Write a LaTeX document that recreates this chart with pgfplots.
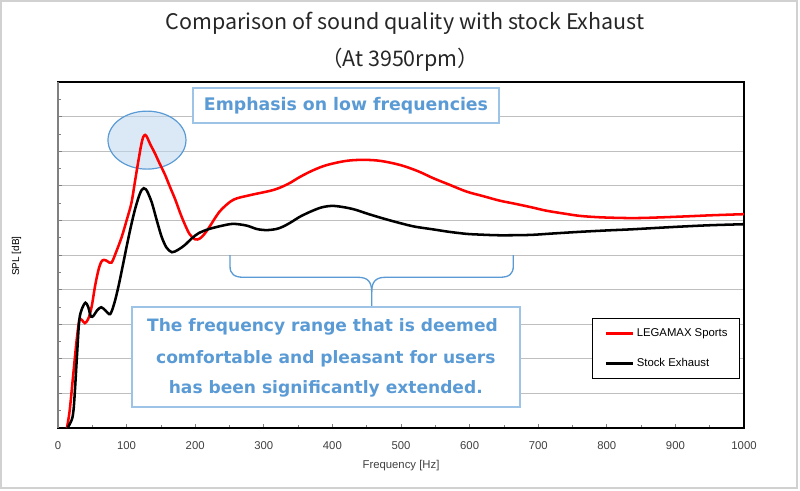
\documentclass[border=0pt]{standalone}
\usepackage{fontspec}
\setmainfont{Liberation Sans}
\newfontfamily\cjk{Noto Sans CJK JP}
\newfontfamily\ann{DejaVu Sans}
\usepackage{pgfplots}
\pgfplotsset{compat=1.18}
\definecolor{annblue}{RGB}{91,155,213}
\definecolor{boxblue}{RGB}{157,195,230}
\definecolor{ellfill}{RGB}{189,215,238}
\definecolor{tickgray}{RGB}{64,64,64}
\begin{document}
\begin{tikzpicture}
\path[use as bounding box] (0pt,0pt) rectangle (600pt,367.5pt);
\begin{axis}[
  at={(43.5pt,46.5pt)}, anchor=south west,
  width=514.5pt, height=259.5pt, scale only axis,
  xmin=0, xmax=1000, ymin=0, ymax=10,
  xtick={0,100,...,1000},
  minor xtick={50,150,...,950},
  ytick={0,1,...,10},
  minor ytick={0.5,1.5,...,9.5},
  yticklabels={},
  tick align=inside, tick pos=left,
  major tick length=3pt, minor tick length=2.5pt,
  every tick/.style={color=gray, line width=0.6pt},
  ymajorgrids,
  major grid style={color=black!25, line width=0.75pt},
  axis line style={black, line width=1.1pt},
  /pgf/number format/assume math mode=true,
  /pgf/number format/set thousands separator={},
  xticklabel style={font=\fontsize{8.5}{10}\selectfont, color=tickgray, anchor=center, yshift=-13.3pt},
  every axis x label/.style={at={(axis description cs:0.5,0)}, anchor=center, yshift=-28.5pt, font=\fontsize{8.5}{10}\selectfont, color=tickgray},
  every axis y label/.style={at={(axis description cs:-0.0603,0.497)}, rotate=90, anchor=center, font=\fontsize{7.5}{9}\selectfont, color=black},
  xlabel={Frequency [Hz]},
  ylabel={SPL [dB]},
  legend style={at={(0.994,0.1416)}, anchor=south east, draw=black, line width=0.6pt, fill=white,
    font=\fontsize{8.5}{10}\selectfont, inner xsep=9pt, inner ysep=7.5pt, row sep=15pt,
    nodes={inner sep=0pt, text height=6pt, text depth=1.5pt},
    /tikz/every odd column/.append style={column sep=2.25pt}},
  legend cell align=left,
  legend image code/.code={\draw[#1, line width=1.9pt] (0pt,0pt) -- (20pt,0pt);},
]
\draw[annblue, line width=0.9pt, fill=ellfill, fill opacity=0.55] (axis cs:129.7,8.32) ellipse [x radius=56.85, y radius=0.838];
\addplot[red, line width=1.9pt, smooth, tension=0.55] coordinates {
(13,0) (17,0.5) (22,1.5) (27,2.5) (31,3.1) (35,3.12) (39,3.03) (44,3.15) (49,3.5) (54,4.1)
(59,4.57) (63,4.8) (67,4.86) (72,4.82) (78,4.78) (85,5.1) (93,5.53) (100,6.0) (107,6.5)
(112,7.1) (117,7.7) (121,8.15) (124,8.4) (127,8.47) (130,8.4) (134,8.22) (141,7.95) (148,7.65) (156,7.32)
(163,6.98) (171,6.6) (178,6.22) (185,5.88) (192,5.6) (200,5.45) (207,5.48) (214,5.62)
(222,5.85) (231,6.13) (239,6.33) (256,6.6) (280,6.73) (314,6.88) (335,7.05) (353,7.26)
(372,7.45) (392,7.6) (420,7.72) (445,7.75) (470,7.72) (499,7.6) (525,7.42) (547,7.22)
(572,7.02) (596,6.83) (620,6.7) (644,6.57) (664,6.49) (690,6.38) (712,6.28) (740,6.19)
(761,6.13) (790,6.09) (824,6.07) (850,6.07) (882,6.09) (920,6.12) (955,6.15) (1000,6.18)
};
\addlegendentry{LEGAMAX Sports}
\addplot[black, line width=1.9pt, smooth, tension=0.5] coordinates {
(14,0) (18,0.15) (21,0.3) (23,0.6) (25,1.19) (28,2.2) (31,3.12) (35,3.45) (40,3.62)
(44,3.5) (48,3.22) (52,3.25) (57,3.4) (63,3.49) (69,3.4) (76,3.29) (82,3.6) (88,4.08)
(94,4.65) (100,5.24) (106,5.8) (112,6.3) (118,6.7) (122,6.88) (125,6.93) (128,6.9) (131,6.8) (137,6.5)
(144,6.0) (151,5.53) (158,5.22) (166,5.08) (175,5.15) (185,5.29) (195,5.48) (205,5.63)
(220,5.75) (240,5.85) (256,5.9) (275,5.85) (290,5.75) (304,5.72) (318,5.75) (328,5.82)
(340,5.95) (353,6.11) (370,6.27) (385,6.38) (401,6.42) (420,6.37) (435,6.3) (450,6.2)
(475,6.05) (499,5.92) (520,5.82) (547,5.74) (570,5.67) (596,5.61) (615,5.59) (644,5.57)
(688,5.58) (720,5.62) (761,5.67) (800,5.71) (834,5.74) (870,5.78) (907,5.82) (950,5.86)
(1000,5.89)
};
\addlegendentry{Stock Exhaust}
\end{axis}
\begin{scope}[x=0.75pt, y=-0.75pt, shift={(0pt,367.5pt)}]
  % outer frame
  \draw[black!18, line width=1.1pt] (1,1) rectangle (797,488);
  % left axis line gray
  \draw[gray, line width=1.1pt] (58,82) -- (58,428);
  % titles
  \node[anchor=base, font=\cjk\fontsize{16.1}{18}\selectfont, text=black!85, inner sep=0pt] at (405,29.3) {Comparison of sound quality with stock Exhaust};
  \node[anchor=base, font=\cjk\fontsize{16.1}{18}\selectfont, text=black!85, inner sep=0pt] at (400,66.7) {（At 3950rpm）};
  % emphasis box
  \draw[boxblue, line width=1.5pt, fill=white] (192.7,88.3) rectangle (499.3,123.3);
  \node[font=\ann\bfseries\fontsize{13}{15}\selectfont, text=annblue, inner sep=0pt] at (346,105.5) {Emphasis on low frequencies};
  % brace
  \draw[annblue, line width=1pt] (230,255) -- (230,266) .. controls (230,274) and (234,277.3) .. (244,277.3)
     -- (358,277.3) .. controls (368,277.3) and (371.7,282) .. (371.7,292) -- (371.7,306.7);
  \draw[annblue, line width=1pt] (513.3,255) -- (513.3,266) .. controls (513.3,274) and (509.3,277.3) .. (499.3,277.3)
     -- (385.4,277.3) .. controls (375.4,277.3) and (371.7,282) .. (371.7,292);
  % lower box
  \draw[boxblue, line width=1.5pt, fill=white] (131.7,306.7) rectangle (520,406.7);
  \node[font=\ann\bfseries\fontsize{12.8}{15}\selectfont, text=annblue, inner sep=0pt] at (322.5,326.7) {The frequency range that is deemed};
  \node[font=\ann\bfseries\fontsize{12.8}{15}\selectfont, text=annblue, inner sep=0pt] at (325.8,358.3) {comfortable and pleasant for users};
  \node[font=\ann\bfseries\fontsize{12.8}{15}\selectfont, text=annblue, inner sep=0pt] at (325.8,389) {has been significantly extended.};
\end{scope}
\end{tikzpicture}
\end{document}
